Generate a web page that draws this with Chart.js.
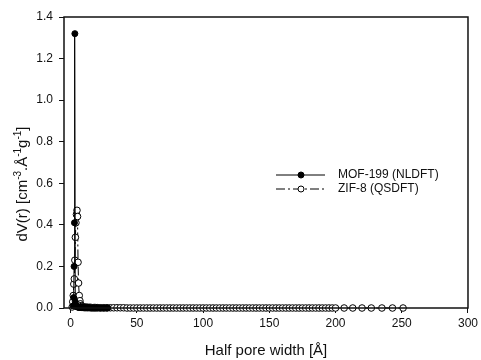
<!DOCTYPE html>
<html>
<head>
<meta charset="utf-8">
<script src="https://cdn.jsdelivr.net/npm/chart.js@4/dist/chart.umd.min.js"></script>
<style>
  html, body { margin: 0; padding: 0; background: #fff; }
  #wrap { width: 481px; height: 360px; }
</style>
</head>
<body>
<div id="wrap"><canvas id="chart" width="481" height="360"></canvas></div>
<script>
// -------- DATA --------
const seriesNames = ["MOF-199 (NLDFT)", "ZIF-8 (QSDFT)"];

// MOF-199 (NLDFT), filled circles
const mofX = [1.9, 2.3, 2.6, 2.9, 3.2, 3.5, 3.8, 4.1, 4.4, 4.8, 5.2, 5.6, 6.0, 6.5, 7.0, 7.5, 8.0, 8.5, 9.0,
  9.5, 10, 10.5, 11, 11.5, 12, 12.5, 13, 13.5, 14, 15, 16, 17, 18, 19, 20, 21, 22, 23, 24, 25, 26, 27, 28];
const mofY = [0.01, 0.05, 0.2, 0.41, 1.32, 0.03, 0.015, 0.01, 0.008, 0.006, 0.005, 0.004, 0.004, 0.003, 0.003, 0.003, 0.002, 0.002, 0.002,
  0.002, 0.001, 0.001, 0.001, 0.001, 0.001, 0.001, 0.001, 0.001, 0.001, 0, 0, 0, 0, 0, 0, 0, 0, 0, 0, 0, 0, 0, 0];

// ZIF-8 (QSDFT), open circles
const zifX = [1.2, 1.6, 2.0, 2.4, 2.8, 3.2, 3.6, 4.0, 4.4, 4.8, 5.2, 5.6, 6.0, 6.5, 7.0, 7.5, 8.0, 8.5, 9.0,
  10, 11, 12, 13, 14, 15, 16, 17, 18, 19, 20,
  22.5, 25, 27.5, 30, 32.5, 35, 37.5, 40, 42.5, 45, 47.5, 50, 52.5, 55, 57.5, 60, 62.5, 65, 67.5, 70,
  72.5, 75, 77.5, 80, 82.5, 85, 87.5, 90, 92.5, 95, 97.5, 100, 102.5, 105, 107.5, 110, 112.5, 115, 117.5, 120,
  122.5, 125, 127.5, 130, 132.5, 135, 137.5, 140, 142.5, 145, 147.5, 150, 152.5, 155, 157.5, 160, 162.5, 165, 167.5, 170,
  172.5, 175, 177.5, 180, 182.5, 185, 187.5, 190, 192.5, 195, 197.5, 200,
  206.5, 213, 220, 227, 235, 243, 251];
const zifY = [0.005, 0.03, 0.06, 0.115, 0.14, 0.23, 0.34, 0.41, 0.45, 0.47, 0.44, 0.22, 0.12, 0.06, 0.035, 0.02, 0.012, 0.008, 0.006,
  0.005, 0.004, 0.004, 0.003, 0.003, 0.003, 0.002, 0.002, 0.002, 0.002, 0.002,
  0.001, 0.001, 0.001, 0.001, 0.001, 0.001, 0.001, 0.001, 0, 0, 0, 0, 0, 0, 0, 0, 0, 0, 0, 0,
  0, 0, 0, 0, 0, 0, 0, 0, 0, 0, 0, 0, 0, 0, 0, 0, 0, 0, 0, 0,
  0, 0, 0, 0, 0, 0, 0, 0, 0, 0, 0, 0, 0, 0, 0, 0, 0, 0, 0, 0,
  0, 0, 0, 0, 0, 0, 0, 0, 0, 0, 0, 0,
  0, 0, 0, 0, 0, 0, 0];

const xTicks = [0, 50, 100, 150, 200, 250, 300];
const yTicks = [0, 0.2, 0.4, 0.6, 0.8, 1.0, 1.2, 1.4];

const toPoints = (xs, ys) => xs.map((x, i) => ({ x: x, y: ys[i] }));

const FAMILY = "'Liberation Sans', Arial, sans-serif";

// -------- PLUGINS --------
// marco completo alrededor del área
const framePlugin = {
  id: "frame",
  afterDatasetsDraw(chart) {
    const { ctx, chartArea: a } = chart;
    ctx.save();
    ctx.strokeStyle = "#111";
    ctx.lineWidth = 1.5;
    ctx.strokeRect(a.left, a.top, a.right - a.left, a.bottom - a.top);
    ctx.restore();
  }
};

// título del eje Y con superíndices
const yTitlePlugin = {
  id: "yTitle",
  afterDraw(chart) {
    const ctx = chart.ctx;
    const parts = [["dV(r) [cm", 0], ["-3", 1], [".Å", 0], ["-1", 1], ["g", 0], ["-1", 1], ["]", 0]];
    const big = "15px " + FAMILY, small = "10px " + FAMILY;
    ctx.save();
    let total = 0;
    parts.forEach(p => { ctx.font = p[1] ? small : big; total += ctx.measureText(p[0]).width; });
    ctx.translate(27, 184);
    ctx.rotate(-Math.PI / 2);
    ctx.fillStyle = "#111";
    ctx.textBaseline = "alphabetic";
    let x = -total / 2;
    parts.forEach(p => {
      ctx.font = p[1] ? small : big;
      ctx.fillText(p[0], x, p[1] ? -6 : 0);
      x += ctx.measureText(p[0]).width;
    });
    ctx.restore();
  }
};

// leyenda dibujada a mano dentro del gráfico
const legendPlugin = {
  id: "innerLegend",
  afterDraw(chart) {
    const ctx = chart.ctx;
    const rows = [
      { y: 175, dash: [], fill: "#000" },
      { y: 189, dash: [9, 3, 2, 3], fill: "#fff" }
    ];
    ctx.save();
    rows.forEach((r, i) => {
      ctx.strokeStyle = "#000";
      ctx.lineWidth = 1;
      ctx.setLineDash(r.dash);
      ctx.beginPath();
      ctx.moveTo(276, r.y);
      ctx.lineTo(325, r.y);
      ctx.stroke();
      ctx.setLineDash([]);
      ctx.beginPath();
      ctx.arc(301, r.y, 3, 0, Math.PI * 2);
      ctx.fillStyle = r.fill;
      ctx.fill();
      ctx.stroke();
      ctx.fillStyle = "#111";
      ctx.font = "12px " + FAMILY;
      ctx.textBaseline = "middle";
      ctx.fillText(seriesNames[i], 338, r.y);
    });
    ctx.restore();
  }
};

// -------- CHART --------
const font = { family: FAMILY, size: 12 };

new Chart(document.getElementById("chart"), {
  type: "line",
  data: {
    datasets: [
      {
        label: seriesNames[0],
        data: toPoints(mofX, mofY),
        borderColor: "#000",
        borderWidth: 1,
        pointRadius: 3,
        pointBackgroundColor: "#000",
        pointBorderColor: "#000",
        pointBorderWidth: 1,
        tension: 0,
        clip: false,
        order: 0
      },
      {
        label: seriesNames[1],
        data: toPoints(zifX, zifY),
        borderColor: "#000",
        borderWidth: 1,
        borderDash: [9, 3, 2, 3],
        pointRadius: 3.3,
        pointBackgroundColor: "#fff",
        pointBorderColor: "#000",
        pointBorderWidth: 1,
        tension: 0,
        clip: false,
        order: 1
      }
    ]
  },
  options: {
    responsive: false,
    animation: false,
    layout: { padding: { top: 17, right: 12, left: 0, bottom: 0 } },
    plugins: { legend: { display: false }, tooltip: { enabled: false } },
    scales: {
      x: {
        type: "linear",
        min: -5,
        max: 300,
        afterBuildTicks: s => { s.ticks = xTicks.map(v => ({ value: v })); },
        afterFit: s => { s.height = 52; },
        grid: { drawOnChartArea: false, drawTicks: true, tickLength: 5, color: "#111" },
        border: { display: false },
        ticks: { color: "#111", font: font, padding: 3, maxRotation: 0 },
        title: {
          display: true,
          text: "Half pore width [Å]",
          color: "#111",
          font: { family: FAMILY, size: 15 },
          padding: { top: 0, bottom: 0 }
        }
      },
      y: {
        min: 0,
        max: 1.4,
        afterBuildTicks: s => { s.ticks = yTicks.map(v => ({ value: v })); },
        afterFit: s => { s.width = 64; },
        grid: { drawOnChartArea: false, drawTicks: true, tickLength: 5, color: "#111" },
        border: { display: false },
        ticks: { color: "#111", font: font, padding: 6, callback: v => v.toFixed(1) },
        title: { display: false }
      }
    }
  },
  plugins: [framePlugin, yTitlePlugin, legendPlugin]
});
</script>
</body>
</html>
